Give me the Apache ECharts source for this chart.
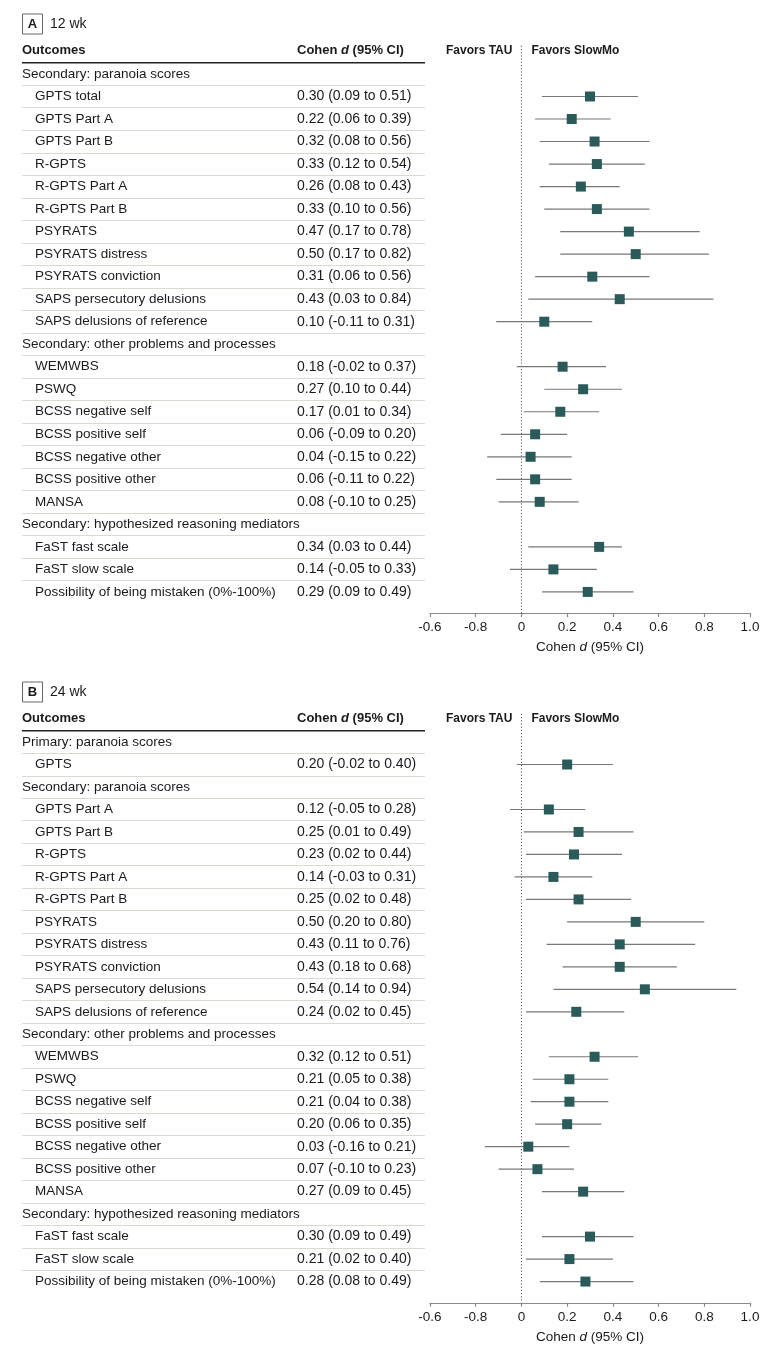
<!DOCTYPE html>
<html>
<head>
<meta charset="utf-8">
<script src="https://cdn.jsdelivr.net/npm/echarts@6/dist/echarts.min.js"></script>
<style>
html,body{margin:0;padding:0;background:#fff;}
#chart{width:780px;height:1355px;}
</style>
</head>
<body>
<div id="chart"></div>
<script>
// ---------- DATA ----------
const tickLabels = ['-0.6', '-0.8', '0', '0.2', '0.4', '0.6', '0.8', '1.0'];

const outcomesA = [
  'Secondary: paranoia scores',
  'GPTS total', 'GPTS Part A', 'GPTS Part B', 'R-GPTS', 'R-GPTS Part A', 'R-GPTS Part B',
  'PSYRATS', 'PSYRATS distress', 'PSYRATS conviction', 'SAPS persecutory delusions', 'SAPS delusions of reference',
  'Secondary: other problems and processes',
  'WEMWBS', 'PSWQ', 'BCSS negative self', 'BCSS positive self', 'BCSS negative other', 'BCSS positive other', 'MANSA',
  'Secondary: hypothesized reasoning mediators',
  'FaST fast scale', 'FaST slow scale', 'Possibility of being mistaken (0%-100%)'
];
const estA  = [null, 0.30, 0.22, 0.32, 0.33, 0.26, 0.33, 0.47, 0.50, 0.31, 0.43, 0.10,
               null, 0.18, 0.27, 0.17, 0.06, 0.04, 0.06, 0.08,
               null, 0.34, 0.14, 0.29];
const lowA  = [null, 0.09, 0.06, 0.08, 0.12, 0.08, 0.10, 0.17, 0.17, 0.06, 0.03, -0.11,
               null, -0.02, 0.10, 0.01, -0.09, -0.15, -0.11, -0.10,
               null, 0.03, -0.05, 0.09];
const highA = [null, 0.51, 0.39, 0.56, 0.54, 0.43, 0.56, 0.78, 0.82, 0.56, 0.84, 0.31,
               null, 0.37, 0.44, 0.34, 0.20, 0.22, 0.22, 0.25,
               null, 0.44, 0.33, 0.49];

const outcomesB = [
  'Primary: paranoia scores',
  'GPTS',
  'Secondary: paranoia scores',
  'GPTS Part A', 'GPTS Part B', 'R-GPTS', 'R-GPTS Part A', 'R-GPTS Part B',
  'PSYRATS', 'PSYRATS distress', 'PSYRATS conviction', 'SAPS persecutory delusions', 'SAPS delusions of reference',
  'Secondary: other problems and processes',
  'WEMWBS', 'PSWQ', 'BCSS negative self', 'BCSS positive self', 'BCSS negative other', 'BCSS positive other', 'MANSA',
  'Secondary: hypothesized reasoning mediators',
  'FaST fast scale', 'FaST slow scale', 'Possibility of being mistaken (0%-100%)'
];
const estB  = [null, 0.20, null, 0.12, 0.25, 0.23, 0.14, 0.25, 0.50, 0.43, 0.43, 0.54, 0.24,
               null, 0.32, 0.21, 0.21, 0.20, 0.03, 0.07, 0.27,
               null, 0.30, 0.21, 0.28];
const lowB  = [null, -0.02, null, -0.05, 0.01, 0.02, -0.03, 0.02, 0.20, 0.11, 0.18, 0.14, 0.02,
               null, 0.12, 0.05, 0.04, 0.06, -0.16, -0.10, 0.09,
               null, 0.09, 0.02, 0.08];
const highB = [null, 0.40, null, 0.28, 0.49, 0.44, 0.31, 0.48, 0.80, 0.76, 0.68, 0.94, 0.45,
               null, 0.51, 0.38, 0.38, 0.35, 0.21, 0.23, 0.45,
               null, 0.49, 0.40, 0.49];

const panelLetters = ['A', 'B'];
const panelTitles = ['12 wk', '24 wk'];

// ---------- LAYOUT / STYLE ----------
const FONT = '"Liberation Sans", Arial, sans-serif';
const TXT = '#1a1a1a';
const MARK = '#2b5a5a';
const WHISK = '#777777';
const AXIS = '#8a8a8a';
const SEP = '#dcd9d0';

const layouts = [
  { top: 62.7, rowH: 22.52, boxY: 24 },
  { top: 730.8, rowH: 22.48, boxY: 692 }
];

const chart = echarts.init(document.getElementById('chart'), null, { renderer: 'canvas' });

const grids = [], xAxes = [], yAxes = [], series = [], graphics = [];
const fmt = v => v.toFixed(2);

function addPanel(k, labels, est, low, high) {
  const L = layouts[k];
  const n = labels.length;
  const h = n * L.rowH;
  const cats = labels.map((_, i) => String(i));
  const gT = grids.length;
  grids.push({ left: 22, width: 403, top: L.top, height: h, outerBoundsMode: 'none' });
  const gP = grids.length;
  grids.push({ left: 430, width: 320, top: L.top, height: h, outerBoundsMode: 'none' });

  xAxes.push({ gridIndex: gT, type: 'value', min: 0, max: 1, show: false });
  const xP = xAxes.length;
  xAxes.push({
    gridIndex: gP, type: 'value', min: -0.4, max: 1.0, interval: 0.2, offset: 10,
    axisLine: { show: true, lineStyle: { color: AXIS, width: 1.2 } },
    axisTick: { show: true, length: 4, lineStyle: { color: AXIS, width: 1.2 } },
    splitLine: { show: false },
    axisLabel: {
      margin: 7, color: TXT, fontSize: 13.5, fontFamily: FONT,
      formatter: v => tickLabels[Math.round((v + 0.4) / 0.2)]
    },
    name: '{n|Cohen }{i|d}{n| (95% CI)}',
    nameLocation: 'middle', nameGap: 27,
    nameTextStyle: {
      rich: {
        n: { fontSize: 13.5, fontFamily: FONT, color: TXT },
        i: { fontSize: 13.5, fontFamily: FONT, color: TXT, fontStyle: 'italic' }
      }
    }
  });

  const common = {
    type: 'category', data: cats, inverse: true, position: 'left',
    axisLine: { show: false }, axisTick: { show: false }, splitLine: { show: false }
  };
  yAxes.push(Object.assign({}, common, {
    gridIndex: gT, axisLabel: { show: false },
    splitLine: { show: true, showMinLine: false, showMaxLine: false, lineStyle: { color: SEP, width: 1.2 } }
  }));
  const yP = yAxes.length;
  yAxes.push(Object.assign({}, common, {
    gridIndex: gP,
    axisLabel: { interval: 0, align: 'left', margin: 408, fontSize: 13.5, fontFamily: FONT, color: TXT,
      formatter: v => est[+v] == null ? labels[+v] : '' }
  }));
  yAxes.push(Object.assign({}, common, {
    gridIndex: gP,
    axisLabel: { interval: 0, align: 'left', margin: 395, fontSize: 13.5, fontFamily: FONT, color: TXT,
      formatter: v => est[+v] == null ? '' : labels[+v] }
  }));
  yAxes.push(Object.assign({}, common, {
    gridIndex: gP,
    axisLabel: { interval: 0, align: 'left', margin: 133, fontSize: 14, fontFamily: FONT, color: TXT,
      formatter: v => est[+v] == null ? '' : fmt(est[+v]) + ' (' + fmt(low[+v]) + ' to ' + fmt(high[+v]) + ')' }
  }));

  // zero reference line + favors labels
  series.push({
    type: 'custom', xAxisIndex: xP, yAxisIndex: yP, silent: true, z: 1,
    data: [[0, 0]],
    renderItem: (params, api) => {
      const cs = params.coordSys;
      const x = api.coord([0, 0])[0];
      return {
        type: 'group', children: [
          { type: 'line', shape: { x1: x, y1: cs.y - 17, x2: x, y2: cs.y + cs.height + 10 },
            style: { stroke: '#555', lineWidth: 1, lineDash: [1.2, 2] } },
          { type: 'text', x: x - 9, y: cs.y - 12,
            style: { text: 'Favors TAU', fill: TXT, font: 'bold 12px ' + FONT, textAlign: 'right', textVerticalAlign: 'middle' } },
          { type: 'text', x: x + 10, y: cs.y - 12,
            style: { text: 'Favors SlowMo', fill: TXT, font: 'bold 12px ' + FONT, textAlign: 'left', textVerticalAlign: 'middle' } }
        ]
      };
    }
  });

  const whisk = [], pts = [];
  est.forEach((e, i) => {
    if (e == null) return;
    whisk.push([low[i], high[i], i]);
    pts.push([e, i]);
  });
  series.push({
    type: 'custom', xAxisIndex: xP, yAxisIndex: yP, silent: true, z: 2,
    encode: { x: [0, 1], y: 2 },
    data: whisk,
    renderItem: (params, api) => {
      const p1 = api.coord([api.value(0), api.value(2)]);
      const p2 = api.coord([api.value(1), api.value(2)]);
      return { type: 'line', shape: { x1: p1[0], y1: p1[1], x2: p2[0], y2: p2[1] },
        style: { stroke: WHISK, lineWidth: 1.2 } };
    }
  });
  series.push({
    type: 'scatter', xAxisIndex: xP, yAxisIndex: yP, silent: true, z: 3,
    symbol: 'rect', symbolSize: 10,
    itemStyle: { color: MARK, opacity: 1 },
    data: pts
  });

  // panel header graphics
  graphics.push(
    { type: 'rect', shape: { x: 22.5, y: L.boxY - 10, width: 20, height: 20 },
      style: { fill: 'none', stroke: '#666', lineWidth: 1 } },
    { type: 'text', x: 32.5, y: L.boxY, style: { text: panelLetters[k], fill: TXT, font: 'bold 13px ' + FONT, textAlign: 'center', textVerticalAlign: 'middle' } },
    { type: 'text', x: 50, y: L.boxY, style: { text: panelTitles[k], fill: TXT, font: '14px ' + FONT, textAlign: 'left', textVerticalAlign: 'middle' } },
    { type: 'text', x: 22, y: L.top - 12, style: { text: 'Outcomes', fill: TXT, font: 'bold 13px ' + FONT, textAlign: 'left', textVerticalAlign: 'middle' } },
    { type: 'text', x: 297, y: L.top - 12, style: {
        text: '{b|Cohen }{bi|d}{b| (95% CI)}', textAlign: 'left', textVerticalAlign: 'middle',
        rich: {
          b: { fill: TXT, font: 'bold 13px ' + FONT },
          bi: { fill: TXT, font: 'italic bold 13px ' + FONT }
        } } },
    { type: 'line', shape: { x1: 22, y1: L.top, x2: 425, y2: L.top }, style: { stroke: '#222', lineWidth: 1.6 } }
  );
}

addPanel(0, outcomesA, estA, lowA, highA);
addPanel(1, outcomesB, estB, lowB, highB);

chart.setOption({
  animation: false,
  backgroundColor: '#fff',
  textStyle: { fontFamily: FONT },
  grid: grids,
  xAxis: xAxes,
  yAxis: yAxes,
  series: series,
  graphic: graphics
});
</script>
</body>
</html>
